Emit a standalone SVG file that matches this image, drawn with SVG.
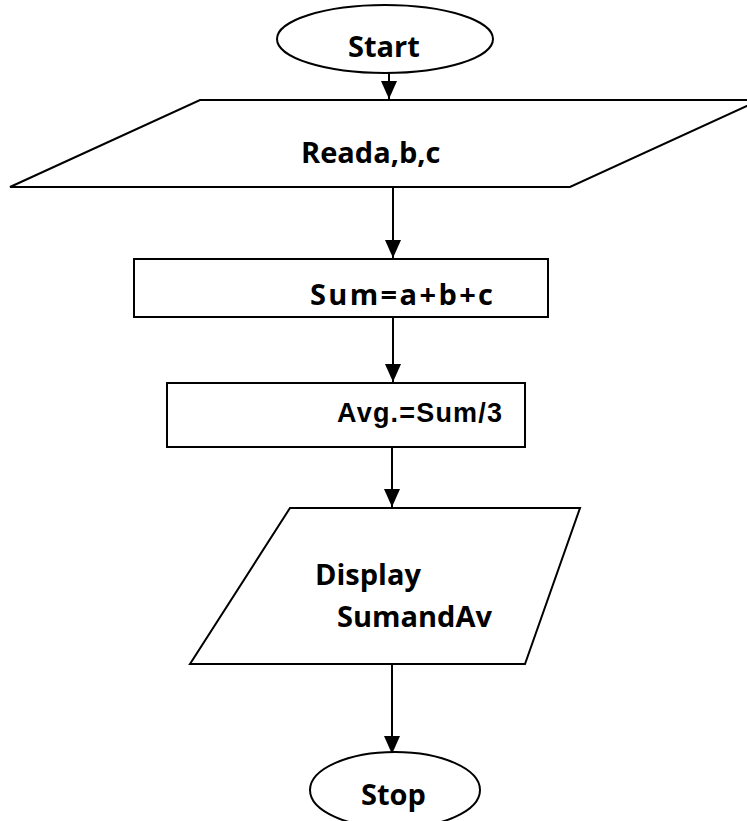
<svg xmlns="http://www.w3.org/2000/svg" width="747" height="821" viewBox="0 0 747 821">
<style>
.s{fill:#fff;stroke:#000;stroke-width:2}
.t{font-family:"Open Sans","Noto Sans",sans-serif;font-weight:bold;font-size:29px;fill:#000}
.a{font-family:"Liberation Sans",Arial,sans-serif;font-weight:bold;font-size:27px;fill:#000}
.c{stroke:#000;stroke-width:2;fill:none;marker-end:url(#ah)}
</style>
<defs>
<marker id="ah" viewBox="0 0 18 16" refX="18" refY="8" markerWidth="18" markerHeight="16" markerUnits="userSpaceOnUse" orient="auto">
<path d="M0,0 L18,8 L0,16 Z" fill="#000"/>
</marker>
</defs>
<rect width="747" height="821" fill="#fff"/>
<g id="connectors">
<line class="c" x1="389" y1="73" x2="389" y2="99"/>
<line class="c" x1="393" y1="187" x2="393" y2="258"/>
<line class="c" x1="393" y1="317" x2="393" y2="382"/>
<line class="c" x1="392" y1="447" x2="392" y2="507"/>
<line class="c" x1="392" y1="664" x2="392" y2="754"/>
</g>
<g id="start">
<ellipse class="s" cx="385" cy="39" rx="108" ry="34"/>
<text class="t" x="348" y="57">Start</text>
</g>
<g id="read">
<polygon class="s" points="200,100 760,100 570,187 10,187"/>
<text class="t" x="301" y="163">Reada,b,c</text>
</g>
<g id="sum">
<rect class="s" x="134" y="259" width="414" height="58"/>
<text class="t" x="310" y="305" font-size="31" textLength="183">Sum=a+b+c</text>
</g>
<g id="avg">
<rect class="s" x="167" y="383" width="358" height="64"/>
<text class="a" x="337" y="422" textLength="165">Avg.=Sum/3</text>
</g>
<g id="display">
<polygon class="s" points="290,508 580,508 525,664 190,664"/>
<text class="t" x="315" y="585">Display</text>
<text class="t" x="337" y="627">SumandAv</text>
</g>
<g id="stop">
<ellipse class="s" cx="395" cy="790" rx="85" ry="38"/>
<text class="t" x="361" y="805">Stop</text>
</g>
</svg>
